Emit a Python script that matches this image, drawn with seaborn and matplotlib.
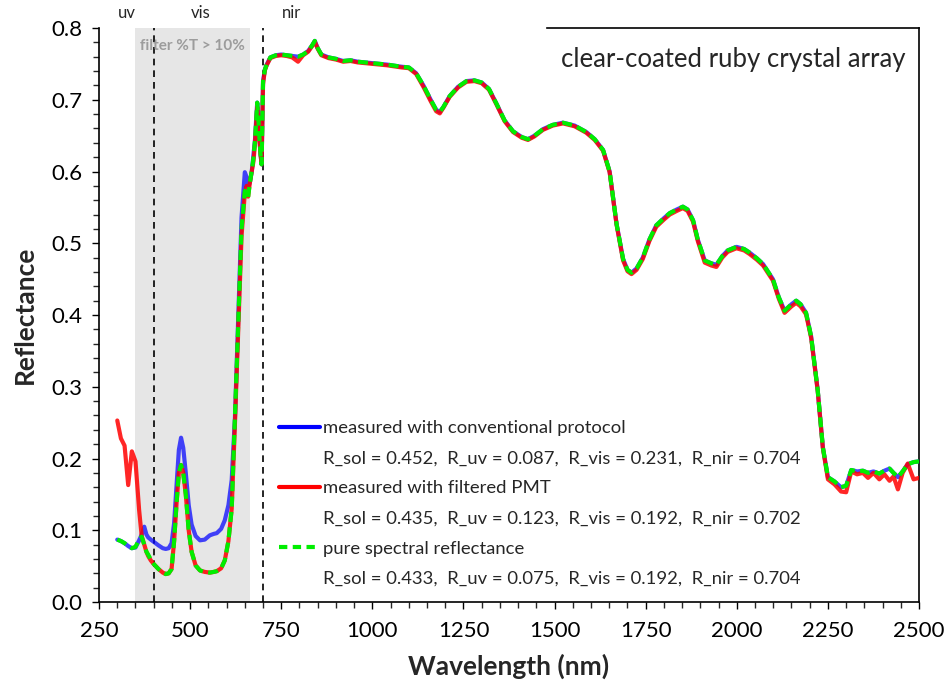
import numpy as np
import pandas as pd
import matplotlib
matplotlib.use("Agg")
import matplotlib.pyplot as plt
from matplotlib.lines import Line2D
from matplotlib.ticker import MultipleLocator, FormatStrFormatter
import seaborn as sns

# ---------------- data ----------------
wavelength = [
    300, 310, 320, 330, 340, 350, 360, 367, 374, 380,
    385, 392, 400, 413, 425, 433, 441, 449, 456, 463,
    469, 475, 481, 488, 496, 504, 515, 527, 540, 554,
    565, 573, 585, 595, 605, 614, 623, 632, 641, 650,
    655, 659, 664, 669, 674, 678, 681, 684, 687, 690,
    693, 696, 700, 705, 710, 720, 735, 750, 765, 780,
    796, 810, 824, 835, 842, 850, 860, 880, 900, 920,
    940, 960, 1000, 1040, 1080, 1100, 1120, 1140, 1160, 1175,
    1185, 1195, 1212, 1235, 1258, 1280, 1300, 1320, 1340, 1363,
    1386, 1410, 1427, 1445, 1468, 1495, 1523, 1555, 1587, 1610,
    1633, 1651, 1670, 1688, 1700, 1711, 1725, 1742, 1760, 1779,
    1800, 1816, 1835, 1852, 1865, 1880, 1893, 1912, 1930, 1944,
    1960, 1975, 1999, 2020, 2035, 2055, 2072, 2099, 2115, 2131,
    2150, 2163, 2175, 2190, 2204, 2222, 2236, 2250, 2268, 2286,
    2300, 2314, 2330, 2346, 2360, 2375, 2391, 2405, 2419, 2430,
    2442, 2455, 2469, 2485, 2500,
]

r_conventional = [
    .087, .085, .082, .078, .075, .076, .086, .094, .105, .094,
    .090, .087, .084, .079, .075, .074, .075, .082, .110, .165,
    .212, .229, .215, .180, .135, .108, .092, .086, .087, .093,
    .095, .096, .102, .114, .135, .170, .258, .397, .536, .599,
    .592, .578, .585, .600, .625, .645, .672, .696, .680, .647,
    .625, .610, .726, .742, .749, .759, .762, .763, .762, .761,
    .760, .763, .768, .776, .782, .772, .763, .759, .757, .754,
    .755, .753, .751, .749, .746, .745, .737, .720, .700, .686,
    .683, .690, .705, .718, .726, .727, .724, .715, .695, .671,
    .656, .648, .645, .650, .659, .665, .668, .664, .655, .645,
    .630, .600, .527, .478, .463, .459, .465, .480, .505, .525,
    .535, .542, .547, .551, .547, .532, .505, .476, .472, .470,
    .482, .490, .495, .492, .487, .479, .471, .450, .425, .406,
    .415, .420, .415, .403, .370, .295, .216, .174, .168, .160,
    .162, .184, .182, .183, .180, .182, .179, .183, .186, .180,
    .174, .182, .192, .195, .196,
]

r_filtered_pmt = [
    .253, .228, .218, .163, .210, .196, .128, .092, .080, .070,
    .064, .058, .053, .046, .041, .039, .040, .046, .085, .140,
    .180, .191, .180, .150, .100, .070, .051, .044, .042, .041,
    .042, .043, .047, .058, .085, .130, .250, .380, .510, .570,
    .580, .565, .585, .600, .615, .640, .665, .690, .670, .645,
    .625, .610, .722, .741, .748, .758, .761, .762, .761, .759,
    .753, .762, .767, .775, .781, .771, .762, .758, .756, .753,
    .754, .752, .750, .748, .745, .744, .736, .718, .698, .684,
    .681, .689, .704, .717, .725, .726, .723, .714, .694, .670,
    .655, .647, .644, .649, .658, .664, .667, .663, .654, .644,
    .629, .599, .526, .476, .461, .457, .463, .478, .503, .523,
    .533, .540, .545, .549, .545, .530, .503, .473, .469, .467,
    .480, .488, .493, .490, .485, .477, .469, .448, .423, .403,
    .412, .417, .412, .401, .368, .294, .215, .171, .164, .154,
    .153, .182, .178, .180, .173, .180, .171, .178, .169, .175,
    .157, .180, .193, .171, .173,
]

r_pure = [
    .087, .085, .082, .078, .075, .077, .087, .091, .080, .070,
    .066, .059, .053, .046, .041, .039, .040, .046, .085, .140,
    .180, .191, .180, .150, .100, .070, .051, .044, .042, .041,
    .042, .043, .047, .058, .085, .130, .258, .390, .520, .573,
    .570, .564, .585, .601, .620, .643, .670, .696, .675, .647,
    .625, .610, .726, .742, .749, .759, .762, .763, .762, .761,
    .760, .763, .768, .776, .782, .772, .763, .759, .757, .754,
    .755, .753, .751, .749, .746, .745, .737, .720, .700, .686,
    .683, .690, .705, .718, .726, .727, .724, .715, .695, .671,
    .656, .648, .645, .650, .659, .665, .668, .664, .655, .645,
    .630, .600, .527, .478, .463, .459, .465, .480, .505, .525,
    .535, .542, .547, .551, .547, .532, .505, .476, .472, .470,
    .482, .490, .495, .492, .487, .479, .471, .450, .425, .406,
    .415, .420, .415, .403, .370, .295, .216, .174, .168, .160,
    .162, .184, .182, .183, .180, .182, .179, .183, .186, .180,
    .174, .182, .192, .195, .196,
]

series_labels = [
    "measured with conventional protocol",
    "measured with filtered PMT",
    "pure spectral reflectance",
]
series_stats = [
    "R_sol = 0.452,  R_uv = 0.087,  R_vis = 0.231,  R_nir = 0.704",
    "R_sol = 0.435,  R_uv = 0.123,  R_vis = 0.192,  R_nir = 0.702",
    "R_sol = 0.433,  R_uv = 0.075,  R_vis = 0.192,  R_nir = 0.704",
]
band_labels = ["uv", "vis", "nir"]
band_label_pos = [326, 530, 778]
band_edges = [400, 700]
filter_span = [350, 665]
filter_text = "filter %T > 10%"
title_text = "clear-coated ruby crystal array"

# ---------------- style ----------------
sns.set_style("ticks")
plt.rcParams["font.family"] = ["Lato", "DejaVu Sans"]

fig = plt.figure(figsize=(9.46, 6.86), dpi=100)
ax = fig.add_axes([0.1047, 0.1224, 0.8668, 0.8368])

# shaded filter region + band separators
ax.axvspan(filter_span[0], filter_span[1], color="#e6e6e6", zorder=0, lw=0)
for xe in band_edges:
    ax.axvline(xe, color="black", lw=1.2, dashes=(4, 3), zorder=1)

df = pd.DataFrame({
    "wl": wavelength,
    "conv": r_conventional,
    "pmt": r_filtered_pmt,
    "pure": r_pure,
})

c_blue = "#0000ff"
c_red = "#ff0000"
c_green = "#00ee00"

sns.lineplot(data=df, x="wl", y="conv", ax=ax, color=c_blue, lw=3.0,
             alpha=0.72, sort=False, zorder=3)
sns.lineplot(data=df, x="wl", y="pmt", ax=ax, color=c_red, lw=3.0,
             alpha=0.85, sort=False, zorder=4)
sns.lineplot(data=df, x="wl", y="pure", ax=ax, color=c_green, lw=3.0,
             sort=False, zorder=5, dashes=False)
ax.lines[-1].set_dashes((2.4, 1.3))

# axes ranges / ticks
ax.set_xlim(250, 2500)
ax.set_ylim(0.0, 0.8)
ax.xaxis.set_major_locator(MultipleLocator(250))
ax.xaxis.set_minor_locator(MultipleLocator(50))
ax.yaxis.set_major_locator(MultipleLocator(0.1))
ax.yaxis.set_minor_locator(MultipleLocator(0.02))
ax.yaxis.set_major_formatter(FormatStrFormatter("%.1f"))
ax.tick_params(axis="both", which="major", direction="out", length=5,
               width=1.0, labelsize=16, colors="black", pad=7)
ax.tick_params(axis="both", which="minor", direction="out", length=4,
               width=1.0)
ax.tick_params(axis="x", which="major", pad=9)

for s in ["left", "bottom", "right", "top"]:
    ax.spines[s].set_color("black")
    ax.spines[s].set_linewidth(1.2)
ax.spines["top"].set_bounds(1480, 2500)

ax.set_xlabel("Wavelength (nm)", fontsize=19, fontweight="bold", labelpad=9)
ax.set_ylabel("Reflectance", fontsize=19, fontweight="bold", labelpad=10)

# band labels above axes
for lab, xp in zip(band_labels, band_label_pos):
    ax.text(xp, 1.012, lab, transform=ax.get_xaxis_transform(),
            ha="center", va="bottom", fontsize=12)
ax.text(sum(filter_span) / 2, 0.775, filter_text, ha="center", va="center",
        fontsize=11, fontweight="bold", color="#9c9c9c")
ax.text(0.983, 0.945, title_text, transform=ax.transAxes, ha="right",
        va="center", fontsize=18.5)

# legend: each series label followed by its stats line
handles = [
    Line2D([], [], color=c_blue, lw=3),
    Line2D([], [], color=c_red, lw=3),
    Line2D([], [], color=c_green, lw=3, dashes=(2.0, 1.3)),
]
leg_h, leg_l = [], []
for h, lab, st in zip(handles, series_labels, series_stats):
    leg_h += [h, Line2D([], [], lw=0, alpha=0)]
    leg_l += [lab, st]
ax.legend(leg_h, leg_l, loc="upper left", bbox_to_anchor=(0.211, 0.330),
          frameon=False, fontsize=13.3, handlelength=2.2,
          handletextpad=0.15, labelspacing=0.77, borderaxespad=0)

fig.savefig("out.png", dpi=100, facecolor="white")
